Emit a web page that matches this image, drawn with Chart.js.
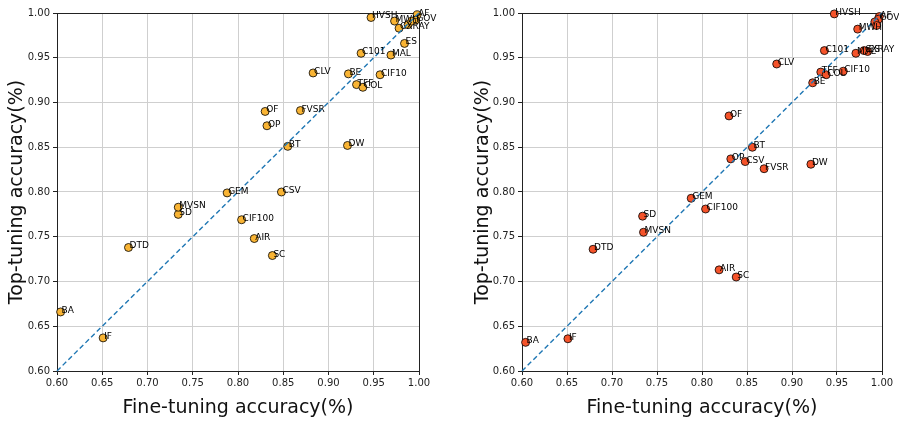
<!DOCTYPE html>
<html>
<head>
<meta charset="utf-8">
<script src="https://cdn.jsdelivr.net/npm/chart.js@4.4.1/dist/chart.umd.min.js"></script>
<style>
  html, body { margin: 0; padding: 0; background: #fff; }
  #wrap { position: relative; width: 899px; height: 422px; }
  canvas { position: absolute; top: 0; }
</style>
</head>
<body>
<div id="wrap">
  <canvas id="leftChart" width="450" height="422" style="left:0"></canvas>
  <canvas id="rightChart" width="449" height="422" style="left:450px"></canvas>
</div>
<script>
// Dataset abbreviations (last two are unreadable in the cluster at the top right)
const datasetNames = ['BA', 'IF', 'DTD', 'SD', 'MVSN', 'GEM', 'CIF100', 'AIR', 'SC', 'CSV',
    'BT', 'DW', 'OF', 'OP', 'FVSR', 'CLV', 'BE', 'TFF', 'COL', 'CIF10',
    'C101', 'MAL', 'ES', 'HVSH', 'MWH', 'CXRAY', 'AF', 'GOV', '', ''];

// Left panel
const fineLeft = [0.604, 0.651, 0.679, 0.734, 0.734, 0.788, 0.804, 0.818, 0.838, 0.848,
    0.855, 0.921, 0.830, 0.832, 0.869, 0.883, 0.922, 0.931, 0.938, 0.957,
    0.936, 0.969, 0.984, 0.947, 0.973, 0.978, 0.998, 0.996, 0.988, 0.992];
const topLeft = [0.666, 0.637, 0.738, 0.775, 0.783, 0.799, 0.769, 0.748, 0.729, 0.800,
    0.851, 0.852, 0.890, 0.874, 0.891, 0.933, 0.932, 0.920, 0.917, 0.931,
    0.955, 0.953, 0.966, 0.995, 0.991, 0.983, 0.998, 0.992, 0.987, 0.991];

// Right panel
const fineRight = [0.604, 0.651, 0.679, 0.734, 0.735, 0.788, 0.804, 0.819, 0.838, 0.848,
    0.856, 0.921, 0.830, 0.832, 0.869, 0.883, 0.923, 0.932, 0.938, 0.957,
    0.936, 0.971, 0.984, 0.947, 0.973, 0.980, 0.997, 0.996, 0.992, 0.994];
const topRight = [0.632, 0.636, 0.736, 0.773, 0.755, 0.793, 0.781, 0.713, 0.705, 0.834,
    0.850, 0.831, 0.885, 0.837, 0.826, 0.943, 0.922, 0.934, 0.931, 0.935,
    0.958, 0.955, 0.957, 0.999, 0.982, 0.958, 0.996, 0.993, 0.990, 0.986];

// Identity line and axis range
const diagonal = [0.6, 1.0];
const axisMin = 0.6;
const axisMax = 1.0;
const tickStep = 0.05;

const FONT = '"DejaVu Sans", sans-serif';

// Write dataset name next to each point
const pointLabels = {
    id: 'pointLabels',
    afterDatasetsDraw(chart) {
        const ctx = chart.ctx;
        const meta = chart.getDatasetMeta(1);
        ctx.save();
        ctx.font = '9px ' + FONT;
        ctx.fillStyle = '#000';
        ctx.textBaseline = 'alphabetic';
        meta.data.forEach((pt, i) => {
            if (datasetNames[i]) ctx.fillText(datasetNames[i], pt.x + 1, pt.y + 1);
        });
        ctx.restore();
    }
};

function isEdge(value) {
    return Math.abs(value - axisMax) < 1e-6;
}

function makeChart(canvasId, fine, top, fill, geom) {
    const ctx = document.getElementById(canvasId).getContext('2d');
    return new Chart(ctx, {
        type: 'scatter',
        data: {
            datasets: [{
                type: 'line',
                data: diagonal.map(v => ({ x: v, y: v })),
                borderColor: '#1f77b4',
                borderWidth: 1.4,
                borderDash: [5, 3],
                pointRadius: 0,
                fill: false,
                order: 0
            }, {
                data: fine.map((f, i) => ({ x: f, y: top[i] })),
                backgroundColor: fill,
                borderColor: '#000',
                borderWidth: 0.8,
                pointRadius: 4,
                order: 1
            }]
        },
        options: {
            responsive: false,
            animation: false,
            clip: false,
            layout: {
                autoPadding: false,
                padding: { left: 0, top: 13, right: geom.padRight, bottom: 0 }
            },
            plugins: {
                legend: { display: false },
                tooltip: { enabled: false }
            },
            scales: {
                x: {
                    type: 'linear',
                    min: axisMin,
                    max: axisMax,
                    afterFit: s => { s.height = 51; },
                    ticks: {
                        stepSize: tickStep,
                        font: { family: FONT, size: 10 },
                        color: '#222',
                        padding: 2,
                        maxRotation: 0,
                        callback: v => v.toFixed(2)
                    },
                    grid: {
                        color: c => isEdge(c.tick.value) ? '#222' : '#cfcfcf',
                        lineWidth: 1,
                        tickColor: '#222',
                        tickLength: 4
                    },
                    border: { color: '#222', width: 1 },
                    title: {
                        display: true,
                        text: 'Fine-tuning accuracy(%)',
                        font: { family: FONT, size: 19 },
                        color: '#111',
                        padding: { top: 0, bottom: 3 }
                    }
                },
                y: {
                    type: 'linear',
                    min: axisMin,
                    max: axisMax,
                    afterFit: s => { s.width = geom.yWidth; },
                    ticks: {
                        stepSize: tickStep,
                        font: { family: FONT, size: 10 },
                        color: '#222',
                        padding: 3,
                        callback: v => v.toFixed(2)
                    },
                    grid: {
                        color: c => isEdge(c.tick.value) ? '#222' : '#cfcfcf',
                        lineWidth: 1,
                        tickColor: '#222',
                        tickLength: 4
                    },
                    border: { color: '#222', width: 1 },
                    title: {
                        display: true,
                        text: 'Top-tuning accuracy(%)',
                        font: { family: FONT, size: 19 },
                        color: '#111',
                        padding: { top: geom.titlePad, bottom: 0 }
                    }
                }
            }
        },
        plugins: [pointLabels]
    });
}

makeChart('leftChart', fineLeft, topLeft, '#f9b434', { yWidth: 57, padRight: 31, titlePad: 6 });
makeChart('rightChart', fineRight, topRight, '#f5532a', { yWidth: 72, padRight: 17, titlePad: 22 });
</script>
</body>
</html>
